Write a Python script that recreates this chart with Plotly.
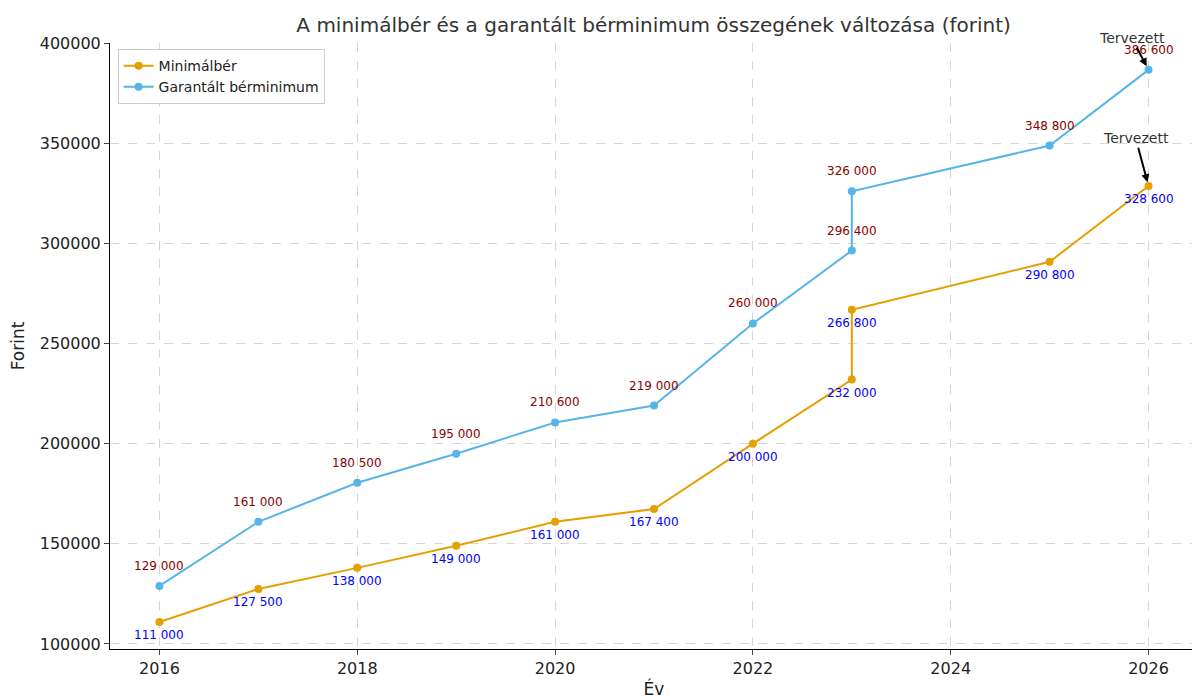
import plotly.graph_objects as go

years = [2016, 2017, 2018, 2019, 2020, 2021, 2022, 2023, 2023, 2025, 2026]
minimalber = [111000, 127500, 138000, 149000, 161000, 167400, 200000, 232000, 266800, 290800, 328600]
garantalt = [129000, 161000, 180500, 195000, 210600, 219000, 260000, 296400, 326000, 348800, 386600]

def fmt(v):
    return f"{v:,}".replace(",", " ")

fig = go.Figure()
fig.add_trace(go.Scatter(x=years, y=minimalber, mode="lines+markers", name="Minimálbér",
                         line=dict(color="#E69F00", width=2), marker=dict(size=8)))
fig.add_trace(go.Scatter(x=years, y=garantalt, mode="lines+markers", name="Garantált bérminimum",
                         line=dict(color="#56B4E9", width=2), marker=dict(size=8)))

ann = []
for x, y in zip(years, minimalber):
    ann.append(dict(x=x, y=y, text=fmt(y), showarrow=False, yshift=-13,
                    font=dict(color="blue", size=12)))
for x, y in zip(years, garantalt):
    ann.append(dict(x=x, y=y, text=fmt(y), showarrow=False, yshift=20,
                    font=dict(color="darkred", size=12)))
ann.append(dict(x=years[-1], y=garantalt[-1], ax=2025.83, ay=402500, axref="x", ayref="y",
                text="Tervezett", showarrow=True, arrowhead=2, arrowwidth=2, arrowsize=0.8,
                arrowcolor="black", font=dict(size=14, color="#333"), standoff=4))
ann.append(dict(x=years[-1], y=minimalber[-1], ax=2025.87, ay=352500, axref="x", ayref="y",
                text="Tervezett", showarrow=True, arrowhead=2, arrowwidth=2, arrowsize=0.8,
                arrowcolor="black", font=dict(size=14, color="#333"), standoff=4))

fig.update_layout(
    width=1200, height=696, template="plotly_white",
    font=dict(family="DejaVu Sans", color="#222"),
    title=dict(text="A minimálbér és a garantált bérminimum összegének változása (forint)",
               x=0.538, xanchor="center", y=0.985, font=dict(size=20, color="#333")),
    margin=dict(l=102, r=10, t=35, b=55, autoexpand=False),
    plot_bgcolor="white",
    annotations=ann,
    legend=dict(x=0.007, y=0.99, bgcolor="white", bordercolor="#ccc", borderwidth=1,
                font=dict(size=14)),
    xaxis=dict(range=[2015.5, 2026.5], dtick=2, automargin=False,
               title=dict(text="Év", font=dict(size=17), standoff=5),
               showgrid=True, gridcolor="#d5d5d5", griddash="dash", showline=True, linecolor="black",
               ticks="outside", tickfont=dict(size=16), zeroline=False),
    yaxis=dict(range=[97500, 400000], dtick=50000, tickformat="d", automargin=False,
               title=dict(text="Forint", font=dict(size=17)),
               showgrid=True, gridcolor="#d5d5d5", griddash="dash", showline=True, linecolor="black",
               ticks="outside", tickfont=dict(size=16), zeroline=False),
)
fig.write_html("out.html")
